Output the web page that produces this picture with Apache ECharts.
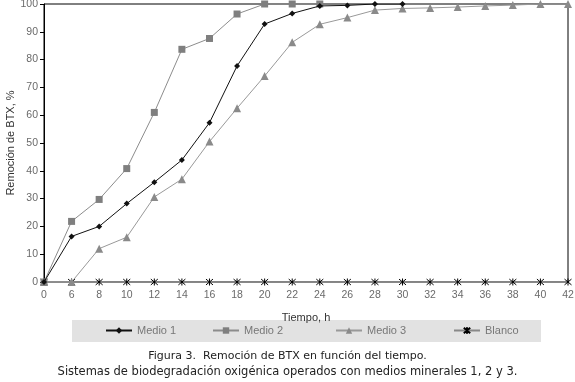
<!DOCTYPE html>
<html>
<head>
<meta charset="utf-8">
<script src="https://cdn.jsdelivr.net/npm/echarts@6/dist/echarts.min.js"></script>
<style>
html,body{margin:0;padding:0;background:#fff;}
#c{width:575px;height:382px;}
</style>
</head>
<body>
<div id="c"></div>
<script>
// ---- data ----
var timeCategories = ['0','6','8','10','12','14','16','18','20','22','24','26','28','30','32','34','36','38','40','42'];
var yTicks = [0,10,20,30,40,50,60,70,80,90,100];
var medio1 = [0, 16.4, 20.0, 28.2, 35.9, 43.9, 57.3, 77.7, 92.8, 96.6, 99.3, 99.5, 100, 100];
var medio2 = [0, 21.8, 29.7, 40.8, 61.0, 83.7, 87.6, 96.4, 100, 100, 100];
var medio3 = [0, 0, 12.0, 16.1, 30.6, 37.0, 50.5, 62.5, 74.1, 86.2, 92.7, 95.1, 97.8, 98.4, 98.6, 98.9, 99.3, 99.6, 100, 100];
var blanco = [0,0,0,0,0,0,0,0,0,0,0,0,0,0,0,0,0,0,0,0];
var seriesNames = ['Medio 1','Medio 2','Medio 3','Blanco'];
var xTitle = 'Tiempo, h';
var yTitle = 'Remoción de BTX, %';
var caption1 = 'Figura 3.  Remoción de BTX en función del tiempo.';
var caption2 = 'Sistemas de biodegradación oxigénica operados con medios minerales 1, 2 y 3.';

var chart = echarts.init(document.getElementById('c'), null, {renderer:'canvas'});
var starPath = 'path://M0,0L10,10M10,0L0,10M5,-1L5,11';
var tickFont = {fontFamily:'Liberation Sans', fontSize:10.5, color:'#6a6a6a'};

var legendLeft = [105, 212, 335, 453];
var legends = seriesNames.map(function(n, i){
  return {
    data:[n], left: legendLeft[i], top: 325, itemWidth: 26, itemHeight: 8,
    padding: 0, selectedMode:false,
    textStyle:{fontFamily:'Liberation Sans', fontSize:11, color:'#777'}
  };
});

chart.setOption({
  animation:false,
  backgroundColor:'#fff',
  grid:{left:44, right:7, top:4, bottom:100, containLabel:false, outerBoundsMode:'none',
        show:true, borderColor:'#000', borderWidth:1, backgroundColor:'transparent'},
  legend: legends,
  graphic:[
    {type:'rect', z:-10, shape:{x:72, y:320, width:469, height:22}, style:{fill:'#e2e2e2'}},
    {type:'text', left:'center', top:351, style:{text:caption1, font:'11px "DejaVu Sans"', fill:'#222'}},
    {type:'text', left:'center', top:366, style:{text:caption2, font:'11.5px "DejaVu Sans"', fill:'#222'}}
  ],
  xAxis:{
    type:'category', data: timeCategories, boundaryGap:false,
    name: xTitle, nameLocation:'middle', nameGap:30, nameMoveOverlap:false,
    nameTextStyle:{fontFamily:'Liberation Sans', fontSize:11, color:'#333'},
    axisLine:{lineStyle:{color:'#888', width:1}},
    axisTick:{show:false},
    axisLabel:Object.assign({interval:0, margin:8}, tickFont),
    splitLine:{show:false}
  },
  yAxis:{
    type:'value', min:0, max:100, interval:10,
    name: yTitle, nameLocation:'middle', nameGap:28, nameMoveOverlap:false,
    nameTextStyle:{fontFamily:'Liberation Sans', fontSize:11, color:'#333'},
    axisLine:{show:true, lineStyle:{color:'#000', width:1}},
    axisTick:{show:true, length:4, lineStyle:{color:'#000'}},
    axisLabel:Object.assign({margin:6}, tickFont),
    splitLine:{show:false}
  },
  series:[
    {name:'Blanco', type:'line', data: blanco, z:2, symbol: starPath, symbolSize:7,
      lineStyle:{color:'#888', width:1},
      itemStyle:{color:'#000', borderColor:'#000', borderWidth:1}},
    {name:'Medio 3', type:'line', data: medio3, z:3, symbol:'triangle', symbolSize:8,
      lineStyle:{color:'#999', width:1},
      itemStyle:{color:'#8a8a8a', borderWidth:0}},
    {name:'Medio 2', type:'line', data: medio2, z:4, symbol:'rect', symbolSize:7,
      lineStyle:{color:'#8c8c8c', width:1},
      itemStyle:{color:'#7f7f7f', borderWidth:0}},
    {name:'Medio 1', type:'line', data: medio1, z:5, symbol:'diamond', symbolSize:6,
      lineStyle:{color:'#111', width:1},
      itemStyle:{color:'#111', borderWidth:0}}
  ]
});
</script>
</body>
</html>
